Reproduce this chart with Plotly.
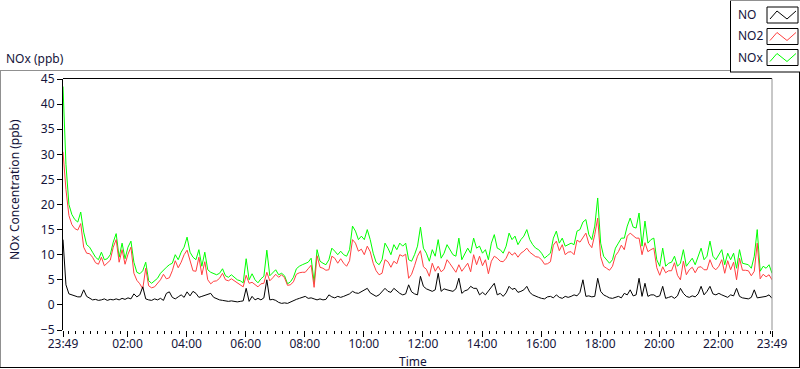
import pandas as pd
import plotly.graph_objects as go

# ---------------- data (6-minute samples, 23:49 -> 23:49 next day) ----------------
start_time = "2014-03-10 23:49"
step = "6min"

nox = [
    43.5, 28, 20, 18, 17, 16.5, 18.5, 14.5, 12, 11.5,
    10.5, 9.5, 9, 10.5, 9, 9.2, 10, 12.5, 14.2, 9.5,
    12.3, 9.2, 11.5, 12.7, 8.5, 6.5, 6.2, 6.8, 8.5, 4.8,
    4.3, 4.8, 5.3, 6.3, 7, 7.5, 8, 8.3, 10, 9,
    10.5, 11.5, 13.5, 10.5, 9.5, 9, 11, 7.7, 10.5, 7,
    6.5, 6.2, 6, 6.3, 7.2, 5.8, 5.5, 6, 5.5, 5,
    4.8, 4.4, 9.2, 5, 6.2, 5, 4.4, 5.2, 5.7, 10.9,
    5.8, 6.5, 7, 6, 6.3, 5.8, 4.2, 4.6, 5.5, 7.2,
    7.7, 8, 8.2, 8.5, 9.3, 4.5, 11, 8.7, 8.3, 8,
    9, 11.3, 10.7, 10, 10.7, 10, 9.7, 11, 15.7, 14.7,
    13, 13.7, 13, 15, 13, 10.3, 8.5, 8, 9, 12.3,
    11.3, 10, 12, 11, 12.3, 11.7, 12.3, 9, 8.7, 10,
    11.7, 15.5, 11.3, 10.3, 8.7, 11, 9.7, 13, 9.3, 10.3,
    12, 11, 10, 9.7, 13.3, 9, 10.3, 11.3, 10.3, 13.3,
    11.3, 11.7, 10.3, 11, 9, 12.3, 14, 11.3, 11, 10.3,
    11.7, 14.3, 13, 13.7, 12, 13, 13.7, 15, 13, 12,
    11.3, 11, 10.3, 9.3, 9.8, 10.3, 13.3, 14.7, 12.3, 13.3,
    11.7, 12, 12.3, 12, 14.7, 15, 16.5, 17, 14, 13,
    15.7, 21.3, 12.3, 9.7, 9, 8.3, 9, 11.3, 12.3, 13.3,
    13.3, 15.7, 17.3, 15.5, 15.3, 18.3, 11.7, 16.7, 12.3, 13,
    13.3, 9, 7.7, 11.3, 7.7, 8.3, 8.5, 9.7, 7.7, 8.3,
    11, 7.7, 8.5, 9.3, 8, 9.7, 11.3, 9, 9.7, 12.7,
    9.7, 9, 10, 11, 8, 10.3, 9, 10.3, 7.3, 11,
    8.3, 8.2, 8, 7.3, 9.7, 15, 6.7, 7.7, 7.3, 8,
    6.3,
]

no2 = [
    30.5, 23, 17.8, 16, 15.2, 14.9, 16.2, 11.5, 10.3, 10.2,
    9.5, 8.4, 8.1, 9.5, 7.8, 8.3, 8.9, 11.5, 13, 8.5,
    11, 8.1, 10.1, 11.5, 6.3, 4.9, 4.2, 3.2, 7.3, 3.8,
    3.4, 3.6, 4.3, 5, 6.1, 5.2, 5.4, 6.8, 8.8, 7.4,
    8.5, 10, 10.9, 8.7, 6.8, 6.7, 9.5, 6, 8.6, 5,
    4.2, 4.7, 4.8, 5.3, 6.3, 5, 4.8, 5.2, 4.8, 4.4,
    4.1, 3.6, 5.9, 4.3, 4.5, 4, 3.6, 4.2, 4.3, 6.5,
    4.8, 5.4, 6.1, 5.5, 6, 5.4, 3.9, 4, 4.6, 6.1,
    6.4, 6.5, 6.5, 7.2, 7.9, 3.5, 9.8, 7.5, 7.3, 6.9,
    7, 9.7, 9.3, 8.3, 9.2, 8.3, 7.7, 8.8, 13, 12.3,
    10.7, 11.1, 10, 11.7, 10.6, 8.3, 6.8, 6, 6.3, 9,
    8.6, 7.5, 8.7, 8.2, 10, 9.7, 10.1, 5.3, 6.1, 7.8,
    9.7, 10.8, 7.6, 7.1, 5.7, 8.3, 6.7, 7.7, 6.6, 7.1,
    9, 8.2, 7.3, 6.5, 8, 6.7, 7.5, 8.3, 6.6, 10,
    8, 9.7, 7.8, 9, 6.2, 8.7, 9.7, 9.3, 8.7, 8.6,
    9.3, 10.6, 9.9, 10.4, 9.5, 10.3, 10.7, 11.3, 10.5, 10,
    9.6, 9.5, 9, 8.1, 8.2, 8.6, 11.9, 12.7, 10.8, 12,
    10, 10.5, 10.6, 10, 12.9, 12.5, 13.5, 14.3, 12.2, 11.4,
    14, 17.3, 9.6, 7.7, 7.3, 6.9, 7.7, 9.8, 10.6, 11.9,
    11, 13.7, 14.3, 13.7, 13.3, 13.3, 10, 12.4, 10.6, 11,
    11.3, 7.4, 5.9, 7.6, 6.4, 6.8, 6.8, 8.4, 5.9, 5,
    8.7, 6, 7, 7.5, 6.4, 7.5, 7.6, 7, 7, 9,
    7.5, 7, 7.7, 9, 6.3, 8.8, 7, 8.5, 5, 9.3,
    6.9, 6.9, 6.8, 5.8, 6.7, 12.3, 5.2, 6.1, 5.6, 6,
    5,
]

no = [
    13, 4, 2.2, 2, 1.8, 1.6, 1.6, 3.0, 1.7, 1.3,
    1.0, 1.1, 0.9, 1.0, 1.2, 0.9, 1.1, 1.0, 1.2, 1.0,
    1.3, 1.1, 1.4, 1.2, 2.2, 1.6, 2.0, 3.6, 1.2, 1.0,
    0.9, 1.2, 1.0, 1.3, 0.9, 2.3, 2.6, 1.5, 1.2, 1.6,
    2.0, 1.5, 2.6, 1.8, 2.7, 2.3, 1.5, 1.7, 1.9, 2.0,
    2.3, 1.5, 1.2, 1.0, 0.9, 0.8, 0.7, 0.8, 0.7, 0.6,
    0.7, 0.8, 3.3, 0.7, 1.7, 1.0, 1.3, 1.0, 1.4, 5.0,
    1.0, 1.1, 0.9, 0.5, 0.3, 0.4, 0.3, 0.6, 0.9, 1.1,
    1.3, 1.5, 1.7, 1.3, 1.4, 1.2, 1.0, 1.2, 1.0, 1.1,
    2.0, 1.6, 1.4, 1.7, 1.5, 1.7, 2.0, 2.2, 2.7, 2.4,
    2.3, 2.6, 3.0, 3.3, 2.4, 2.0, 1.7, 2.0, 2.7, 3.3,
    2.7, 2.5, 3.3, 2.8, 2.3, 2.0, 2.2, 4.0, 2.6, 2.2,
    2.0, 5.7, 3.7, 3.2, 3.0, 2.7, 3.0, 6.3, 2.7, 3.2,
    3.0, 2.8, 2.7, 3.2, 5.3, 2.3, 2.8, 3.0, 3.7, 3.3,
    3.3, 2.0, 2.5, 2.0, 2.8, 3.6, 4.3, 2.0, 2.3, 1.7,
    2.4, 3.7, 3.1, 3.3, 2.5, 2.7, 3.0, 3.7, 2.5, 2.0,
    1.7, 1.5, 1.3, 1.2, 1.6, 1.7, 1.4, 2.0, 1.5, 1.3,
    1.7, 1.5, 1.7, 2.0, 1.8, 2.5, 5.0, 1.7, 1.8, 1.6,
    1.7, 5.3, 2.7, 2.0, 1.7, 1.4, 1.3, 1.5, 1.7, 1.4,
    2.3, 2.0, 3.0, 1.8, 2.0, 5.3, 1.7, 4.3, 1.7, 2.0,
    2.0, 1.6, 1.8, 3.7, 1.3, 1.5, 1.7, 1.3, 1.8, 3.3,
    2.3, 1.7, 1.5, 1.8, 1.6, 2.2, 3.7, 2.0, 2.7, 3.7,
    2.2, 2.0, 2.3, 2.0, 1.7, 1.5, 2.0, 1.8, 3.3, 1.7,
    1.4, 1.3, 1.2, 1.5, 3.0, 1.4, 1.5, 1.6, 1.7, 2.0,
    1.3,
]

tick_times = [
    "2014-03-10 23:49", "2014-03-11 02:00", "2014-03-11 04:00", "2014-03-11 06:00",
    "2014-03-11 08:00", "2014-03-11 10:00", "2014-03-11 12:00", "2014-03-11 14:00",
    "2014-03-11 16:00", "2014-03-11 18:00", "2014-03-11 20:00", "2014-03-11 22:00",
    "2014-03-11 23:49",
]
tick_labels = ["23:49", "02:00", "04:00", "06:00", "08:00", "10:00", "12:00",
               "14:00", "16:00", "18:00", "20:00", "22:00", "23:49"]
y_ticks = [-5, 0, 5, 10, 15, 20, 25, 30, 35, 40, 45]

series_names = ["NO", "NO2", "NOx"]
series_colors = {"NO": "#000000", "NO2": "#ff4040", "NOx": "#00ff00"}

# ---------------- figure ----------------
times = pd.date_range(start_time, periods=len(nox), freq=step)

W, H = 800, 369
ML, MR, MT, MB = 63, 28, 79, 39
PW, PH = W - ML - MR, H - MT - MB


def px(x):
    return (x - ML) / PW


def py(y):
    return (H - MB - y) / PH


FONT = "Noto Sans"
TXT = "#14143a"

fig = go.Figure()
for name, vals in [("NOx", nox), ("NO2", no2), ("NO", no)]:
    fig.add_trace(go.Scatter(x=times, y=vals, mode="lines", name=name,
                             line=dict(color=series_colors[name], width=1)))

fig.update_layout(
    width=W, height=H,
    margin=dict(l=ML, r=MR, t=MT, b=MB),
    paper_bgcolor="white", plot_bgcolor="white",
    showlegend=False,
    font=dict(family=FONT, size=12, color=TXT),
)
fig.update_xaxes(
    range=[times[0], times[-1]],
    tickmode="array", tickvals=pd.to_datetime(tick_times), ticktext=tick_labels,
    ticks="outside", ticklen=6, tickcolor="black", tickwidth=1,
    ticklabelstandoff=-3,
    showgrid=False, zeroline=False, showline=False,
    tickfont=dict(family=FONT, size=12, color=TXT),
    minor=dict(ticks="outside", ticklen=3, tickcolor="black", tickwidth=1,
               dtick=15 * 60 * 1000, tick0="2014-03-11 00:00", showgrid=False),
)
fig.update_yaxes(
    range=[-5, 45], tickmode="array", tickvals=y_ticks,
    ticks="outside", ticklen=5, tickcolor="black", tickwidth=1,
    showgrid=False, zeroline=False, showline=True, linecolor="black", linewidth=1,
    tickfont=dict(family=FONT, size=12, color=TXT),
)

shapes = []


def line(x0, y0, x1, y1, color, width=1):
    shapes.append(dict(type="line", xref="paper", yref="paper",
                       x0=px(x0), y0=py(y0), x1=px(x1), y1=py(y1),
                       line=dict(color=color, width=width)))


# outer frame
line(0, 70.5, 730, 70.5, "#909090")
line(0.5, 70, 0.5, 368, "#909090")
line(0, 367.5, 800, 367.5, "black")
line(799.5, 72, 799.5, 368, "black")
# plot frame
line(63, 78.5, 772, 78.5, "black")
line(772, 78.5, 772, 330, "#909090")
# legend box
line(730.5, 0, 730.5, 72, "black")
line(730, 72, 800, 72, "black")
line(730, 0.5, 800, 0.5, "#909090")

annotations = []
legend_rows = [("NO", 14.5, 7), ("NO2", 36, 28.5), ("NOx", 57.5, 49.5)]
for name, ty, by in legend_rows:
    annotations.append(dict(text=name, xref="paper", yref="paper",
                            x=px(736), y=py(ty), xanchor="left", yanchor="middle",
                            showarrow=False, font=dict(family=FONT, size=12, color=TXT)))
    shapes.append(dict(type="rect", xref="paper", yref="paper",
                       x0=px(767), y0=py(by), x1=px(798), y1=py(by + 16),
                       line=dict(color="black", width=1), fillcolor="white"))
    pts = [(770, by + 12), (777, by + 4), (787, by + 12), (796, by + 4)]
    path = "M " + " L ".join(f"{px(a):.5f},{py(b):.5f}" for a, b in pts)
    shapes.append(dict(type="path", xref="paper", yref="paper", path=path,
                       line=dict(color=series_colors[name], width=1)))

annotations.append(dict(text="NOx (ppb)", xref="paper", yref="paper",
                        x=px(4), y=py(58), xanchor="left", yanchor="middle",
                        showarrow=False, font=dict(family=FONT, size=12, color=TXT)))
annotations.append(dict(text="NOx Concentration (ppb)", xref="paper", yref="paper",
                        x=px(14), y=py(190), xanchor="center", yanchor="middle",
                        textangle=-90, showarrow=False,
                        font=dict(family=FONT, size=12, color=TXT)))
annotations.append(dict(text="Time", xref="paper", yref="paper",
                        x=px(413), y=py(361), xanchor="center", yanchor="middle",
                        showarrow=False, font=dict(family=FONT, size=12, color=TXT)))

fig.update_layout(shapes=shapes, annotations=annotations)
fig.write_html("out.html", config={"displayModeBar": False},
               post_script="document.body.style.margin='0';document.body.style.overflow='hidden';")
